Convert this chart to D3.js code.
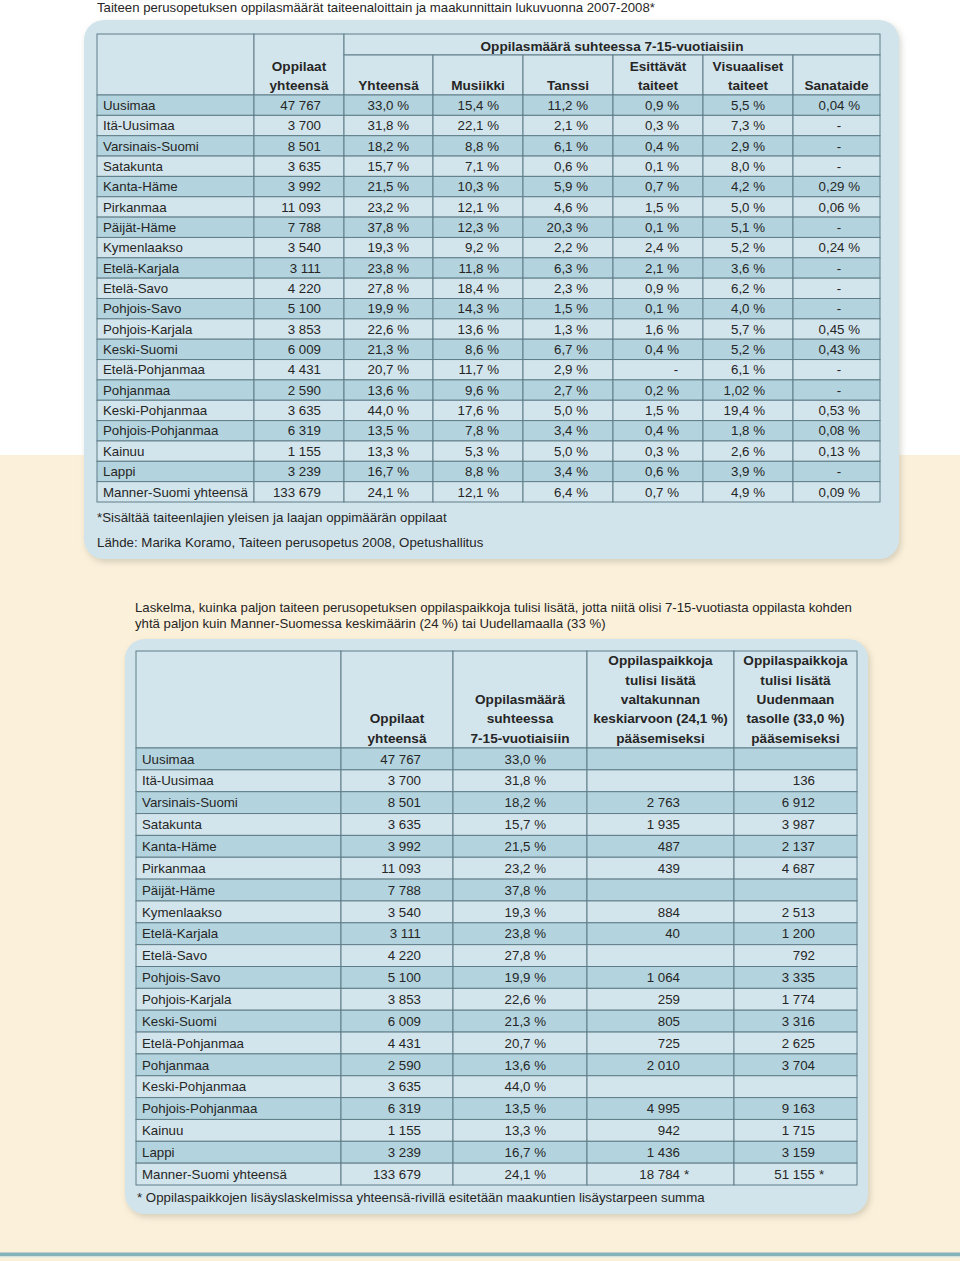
<!DOCTYPE html>
<html><head><meta charset="utf-8">
<script src="https://cdn.jsdelivr.net/npm/d3@7"></script>
<style>body{margin:0;background:#fff;} svg{display:block;font-family:"Liberation Sans",Arial,Helvetica,sans-serif;}</style>
</head><body><script>
// ---------- DATA ----------
const regions = ["Uusimaa","Itä-Uusimaa","Varsinais-Suomi","Satakunta","Kanta-Häme","Pirkanmaa","Päijät-Häme","Kymenlaakso","Etelä-Karjala","Etelä-Savo","Pohjois-Savo","Pohjois-Karjala","Keski-Suomi","Etelä-Pohjanmaa","Pohjanmaa","Keski-Pohjanmaa","Pohjois-Pohjanmaa","Kainuu","Lappi","Manner-Suomi yhteensä"];
const students = [47767,3700,8501,3635,3992,11093,7788,3540,3111,4220,5100,3853,6009,4431,2590,3635,6319,1155,3239,133679];
const sharePct = [33.0,31.8,18.2,15.7,21.5,23.2,37.8,19.3,23.8,27.8,19.9,22.6,21.3,20.7,13.6,44.0,13.5,13.3,16.7,24.1];
const musicPct = [15.4,22.1,8.8,7.1,10.3,12.1,12.3,9.2,11.8,18.4,14.3,13.6,8.6,11.7,9.6,17.6,7.8,5.3,8.8,12.1];
const dancePct = [11.2,2.1,6.1,0.6,5.9,4.6,20.3,2.2,6.3,2.3,1.5,1.3,6.7,2.9,2.7,5.0,3.4,5.0,3.4,6.4];
const performingPct = [0.9,0.3,0.4,0.1,0.7,1.5,0.1,2.4,2.1,0.9,0.1,1.6,0.4,null,0.2,1.5,0.4,0.3,0.6,0.7];
const visualPct = [5.5,7.3,2.9,8.0,4.2,5.0,5.1,5.2,3.6,6.2,4.0,5.7,5.2,6.1,1.02,19.4,1.8,2.6,3.9,4.9];
const literaturePct = [0.04,null,null,null,0.29,0.06,null,0.24,null,null,null,0.45,0.43,null,null,0.53,0.08,0.13,null,0.09];
const addNational = [null,null,2763,1935,487,439,null,884,40,null,1064,259,805,725,2010,null,4995,942,1436,18784];
const addUusimaa = [null,136,6912,3987,2137,4687,null,2513,1200,792,3335,1774,3316,2625,3704,null,9163,1715,3159,51155];

const title1 = "Taiteen perusopetuksen oppilasmäärät taiteenaloittain ja maakunnittain lukuvuonna 2007-2008*";
const groupHeader1 = "Oppilasmäärä suhteessa 7-15-vuotiaisiin";
const headers1 = [[], ["Oppilaat","yhteensä"], ["Yhteensä"], ["Musiikki"], ["Tanssi"], ["Esittävät","taiteet"], ["Visuaaliset","taiteet"], ["Sanataide"]];
const notes1 = ["*Sisältää taiteenlajien yleisen ja laajan oppimäärän oppilaat","Lähde: Marika Koramo, Taiteen perusopetus 2008, Opetushallitus"];
const intro2 = ["Laskelma, kuinka paljon taiteen perusopetuksen oppilaspaikkoja tulisi lisätä, jotta niitä olisi 7-15-vuotiasta oppilasta kohden","yhtä paljon kuin Manner-Suomessa keskimäärin (24 %) tai Uudellamaalla (33 %)"];
const headers2 = [[], ["Oppilaat","yhteensä"], ["Oppilasmäärä","suhteessa","7-15-vuotiaisiin"], ["Oppilaspaikkoja","tulisi lisätä","valtakunnan","keskiarvoon (24,1 %)","pääsemiseksi"], ["Oppilaspaikkoja","tulisi lisätä","Uudenmaan","tasolle (33,0 %)","pääsemiseksi"]];
const note2 = "* Oppilaspaikkojen lisäyslaskelmissa yhteensä-rivillä esitetään maakuntien lisäystarpeen summa";

// ---------- FORMAT ----------
const fi = d3.formatLocale({decimal:",", thousands:" ", grouping:[3], currency:["","€"]});
const fmtInt = fi.format(",d");
function fmtPct(v){
  if (v == null) return "-";
  const d = Math.abs(Math.round(v*10) - v*10) < 1e-6 ? 1 : 2;
  return fi.format(",." + d + "f")(v) + " %";
}

// ---------- STYLE ----------
const C = {panel:"#d2e4eb", light:"#d3e5ec", dark:"#b3d4de", line:"#5f7d88", text:"#262626", cream:"#fbf0da", teal:"#86b2b9"};
const FS = 13.3, FSB = 13.6;

const W = 960, H = 1261;
const svg = d3.select("body").append("svg").attr("width", W).attr("height", H);
const defs = svg.append("defs");
const f = defs.append("filter").attr("id","sh").attr("x","-5%").attr("y","-5%").attr("width","110%").attr("height","112%");
f.append("feDropShadow").attr("dx",2).attr("dy",3).attr("stdDeviation",3).attr("flood-color","#8a8a7a").attr("flood-opacity",0.35);

// background
svg.append("rect").attr("x",0).attr("y",0).attr("width",W).attr("height",H).attr("fill","#fff");
svg.append("rect").attr("x",0).attr("y",455).attr("width",W).attr("height",H-455).attr("fill",C.cream);
svg.append("rect").attr("x",0).attr("y",1252.5).attr("width",W).attr("height",3.5).attr("fill",C.teal);
svg.append("rect").attr("x",0).attr("y",1256).attr("width",W).attr("height",1.2).attr("fill","#cfe3e3");

// title
svg.append("text").attr("x",97).attr("y",11.5).attr("font-size",13.2).attr("fill",C.text).text(title1);

// panels
svg.append("rect").attr("x",84).attr("y",20).attr("width",815).attr("height",539).attr("rx",20).attr("fill",C.panel).attr("filter","url(#sh)");
svg.append("rect").attr("x",125).attr("y",639).attr("width",743).attr("height",575).attr("rx",20).attr("fill",C.panel).attr("filter","url(#sh)");

function cell(g, x0, x1, y0, y1, fill){
  g.append("rect").attr("x",x0).attr("y",y0).attr("width",x1-x0).attr("height",y1-y0)
    .attr("fill",fill).attr("stroke",C.line).attr("stroke-width",1);
}
function txt(g, x, y, s, anchor, bold){
  g.append("text").attr("x",x).attr("y",y).attr("text-anchor",anchor||"start")
    .attr("font-size",bold?FSB:FS).attr("font-weight",bold?"bold":"normal").attr("fill",C.text).text(s);
}

// ---------- TABLE 1 ----------
{
  const g = svg.append("g");
  const edges = [97,254,344,433,523,613,703,793,880];
  const top = 34, groupBottom = 55, headBottom = 95, bottom = 502;
  const y = d3.scaleBand().domain(regions).range([headBottom, bottom]);
  const cols = [null, students, sharePct, musicPct, dancePct, performingPct, visualPct, literaturePct];
  const pad = [0, 23, 24, 24, 25, 24, 28, 20];
  const dashX = [0, 0, 0, 0, 0, 676, 0, 839];

  cell(g, edges[0], edges[1], top, headBottom, C.light);
  cell(g, edges[1], edges[2], top, headBottom, C.light);
  cell(g, edges[2], edges[8], top, groupBottom, C.light);
  for (let c = 2; c < 8; c++) cell(g, edges[c], edges[c+1], groupBottom, headBottom, C.light);
  txt(g, (edges[2]+edges[8])/2, 50.5, groupHeader1, "middle", true);
  headers1.forEach((lines, c) => {
    if (!lines.length) return;
    const cx = (edges[c]+edges[c+1])/2;
    lines.forEach((s, i) => txt(g, cx, 89.5 - (lines.length-1-i)*19, s, "middle", true));
  });

  regions.forEach((r, i) => {
    const y0 = y(r), y1 = y0 + y.bandwidth();
    const fill = i % 2 === 0 ? C.dark : C.light;
    for (let c = 0; c < 8; c++) cell(g, edges[c], edges[c+1], y0, y1, fill);
    const by = y0 + y.bandwidth()/2 + 4.7;
    txt(g, edges[0]+6, by, r, "start");
    for (let c = 1; c < 8; c++) {
      const v = cols[c][i];
      if (c === 1) txt(g, edges[2]-pad[c], by, fmtInt(v), "end");
      else if (v == null) txt(g, dashX[c], by, "-", "middle");
      else txt(g, edges[c+1]-pad[c], by, fmtPct(v), "end");
    }
  });
  txt(g, 97, 521.5, notes1[0], "start");
  txt(g, 97, 546.5, notes1[1], "start");
}

// ---------- TABLE 2 ----------
{
  const g = svg.append("g");
  intro2.forEach((s, i) => g.append("text").attr("x",135).attr("y",611.5 + i*16).attr("font-size",13.2).attr("fill",C.text).text(s));
  const edges = [136,341,453,587,734,857];
  const top = 651, headBottom = 748, bottom = 1185;
  const y = d3.scaleBand().domain(regions).range([headBottom, bottom]);
  const last = regions.length - 1;
  for (let c = 0; c < 5; c++) cell(g, edges[c], edges[c+1], top, headBottom, C.light);
  headers2.forEach((lines, c) => {
    if (!lines.length) return;
    const cx = (edges[c]+edges[c+1])/2;
    lines.forEach((s, i) => txt(g, cx, 742.5 - (lines.length-1-i)*19.3, s, "middle", true));
  });
  const anchors = [0, 421, 546, 680, 815];
  regions.forEach((r, i) => {
    const y0 = y(r), y1 = y0 + y.bandwidth();
    const fill = i % 2 === 0 ? C.dark : C.light;
    for (let c = 0; c < 5; c++) cell(g, edges[c], edges[c+1], y0, y1, fill);
    const by = y0 + y.bandwidth()/2 + 4.7;
    txt(g, edges[0]+6, by, r, "start");
    txt(g, anchors[1], by, fmtInt(students[i]), "end");
    txt(g, anchors[2], by, fmtPct(sharePct[i]), "end");
    [addNational, addUusimaa].forEach((arr, k) => {
      const v = arr[i];
      if (v == null) return;
      txt(g, anchors[3+k], by, fmtInt(v), "end");
      if (i === last) txt(g, anchors[3+k]+4, by, "*", "start");
    });
  });
  txt(g, 137, 1201.5, note2, "start");
}
</script></body></html>
